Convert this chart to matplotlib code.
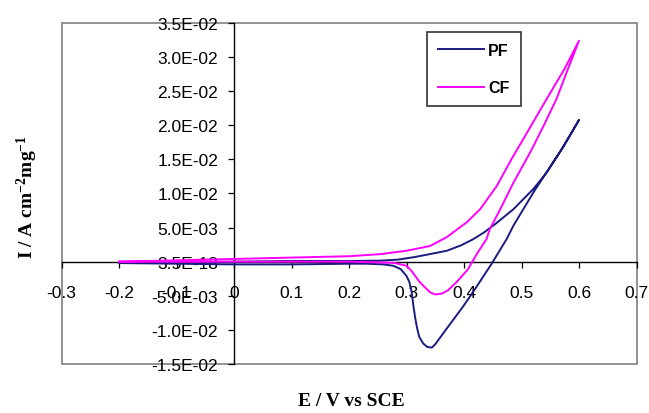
import numpy as np
import matplotlib
matplotlib.use('Agg')
import matplotlib.pyplot as plt
from matplotlib.patches import Rectangle
from matplotlib.ticker import FuncFormatter

plt.rcParams['font.family'] = 'Liberation Sans'
plt.rcParams['mathtext.fontset'] = 'custom'
plt.rcParams['mathtext.rm'] = 'Liberation Serif:bold'
plt.rcParams['mathtext.default'] = 'rm'

# PF: forward scan then reverse scan (E in V, I in A cm-2 mg-1)
pf_e = [-0.20, -0.10, 0.00, 0.10, 0.20, 0.254, 0.285, 0.312, 0.340, 0.370, 0.395,
        0.416, 0.435, 0.454, 0.486, 0.521, 0.544, 0.570, 0.600,
        0.585, 0.570, 0.555, 0.521, 0.486, 0.474, 0.448, 0.420, 0.399, 0.370,
        0.350, 0.344, 0.336, 0.329, 0.322, 0.318, 0.315, 0.312, 0.309, 0.305,
        0.300, 0.290, 0.277, 0.260, 0.230, 0.200, 0.100, 0.000, -0.100, -0.200]
pf_i = [-0.0002, -0.0001, 0.0000, 0.0001, 0.0001, 0.00015, 0.0003, 0.00065, 0.0011,
        0.0016, 0.0024, 0.0033, 0.0043, 0.0055, 0.0077, 0.0107, 0.0131, 0.0165,
        0.0208,
        0.0186, 0.0165, 0.0146, 0.0102, 0.0053, 0.0033, -0.0003, -0.0039, -0.0065,
        -0.0098, -0.0121, -0.0126, -0.0125, -0.0120, -0.0110, -0.0096, -0.0082,
        -0.0065, -0.0045, -0.0030, -0.0021, -0.0011, -0.0006, -0.0004, -0.0003,
        -0.0003, -0.0004, -0.0004, -0.0003, -0.0002]

# CF: forward scan then reverse scan
cf_e = [-0.20, -0.10, 0.00, 0.10, 0.20, 0.254, 0.300, 0.341, 0.370, 0.405, 0.428,
        0.457, 0.483, 0.515, 0.544, 0.575, 0.600,
        0.580, 0.561, 0.540, 0.518, 0.509, 0.486, 0.463, 0.445, 0.439, 0.422,
        0.407, 0.387, 0.372, 0.361, 0.350, 0.341, 0.323, 0.310, 0.300, 0.280,
        0.250, 0.200, 0.000, -0.200]
cf_i = [0.0000, 0.0002, 0.0004, 0.0006, 0.0008, 0.0011, 0.0016, 0.0023, 0.0036,
        0.0058, 0.0077, 0.0111, 0.0151, 0.0197, 0.0239, 0.0283, 0.0324,
        0.0281, 0.0239, 0.0202, 0.0165, 0.0151, 0.0116, 0.0077, 0.0048, 0.0033,
        0.0011, -0.0011, -0.0030, -0.0042, -0.0047, -0.0048, -0.0045, -0.0030,
        -0.0015, -0.0006, -0.0002, -0.0001, 0.0000, 0.0000, 0.0000]

x_ticks = [-0.3, -0.2, -0.1, 0.0, 0.1, 0.2, 0.3, 0.4, 0.5, 0.6, 0.7]
x_tick_labels = ['-0.3', '-0.2', '-0.1', '0', '0.1', '0.2', '0.3', '0.4', '0.5', '0.6', '0.7']
y_ticks = np.arange(-0.015, 0.0351, 0.005)

fig = plt.figure(figsize=(6.49, 4.14), dpi=100)
ax = fig.add_axes([0.0948, 0.1184, 0.886, 0.8237])

ax.plot(pf_e, pf_i, color='#1a1a80', lw=1.4, label='PF', zorder=3)
ax.plot(cf_e, cf_i, color='#ff00ff', lw=1.4, label='CF', zorder=3)

ax.set_xlim(-0.3, 0.7)
ax.set_ylim(-0.015, 0.035)

# axes cross at the origin, Excel style
ax.spines['left'].set_position(('data', 0))
ax.spines['bottom'].set_position(('data', 0))
ax.spines['top'].set_visible(False)
ax.spines['right'].set_visible(False)
for s in ('left', 'bottom'):
    ax.spines[s].set_color('black')
    ax.spines[s].set_linewidth(1.0)
ax.add_patch(Rectangle((0, 0), 1, 1, transform=ax.transAxes, fill=False,
                       edgecolor='#808080', lw=1.2, clip_on=False, zorder=1))

ax.set_xticks(x_ticks)
ax.set_xticklabels(x_tick_labels)
ax.set_yticks(y_ticks)
ax.yaxis.set_major_formatter(FuncFormatter(lambda v, p: f'{v:.1E}'))
ax.tick_params(axis='x', direction='out', length=4.5, width=0.9, pad=12, labelsize=12.5)
ax.tick_params(axis='y', direction='out', length=4.5, width=0.9, pad=7, labelsize=12.5)

leg = ax.legend(loc='upper left', bbox_to_anchor=(426.7 / 649, 1 - 32.7 / 414),
                bbox_transform=fig.transFigure, borderaxespad=0, fancybox=False,
                handlelength=2.9, labelspacing=1.4, borderpad=0.7, handletextpad=0.25,
                prop={'weight': 'bold', 'size': 11.5})
leg.get_frame().set_edgecolor('black')
leg.get_frame().set_linewidth(1.2)

fig.text(27 / 649, 1 - 197 / 414, 'I / A cm$^{-2}$mg$^{-1}$', rotation=90,
         ha='center', va='center', fontsize=14, family='Liberation Serif',
         weight='bold')
fig.text(351 / 649, 1 - 402 / 414, 'E / V vs SCE', ha='center', va='center',
         fontsize=14, family='Liberation Serif', weight='bold')

fig.savefig('out.png', dpi=100)
